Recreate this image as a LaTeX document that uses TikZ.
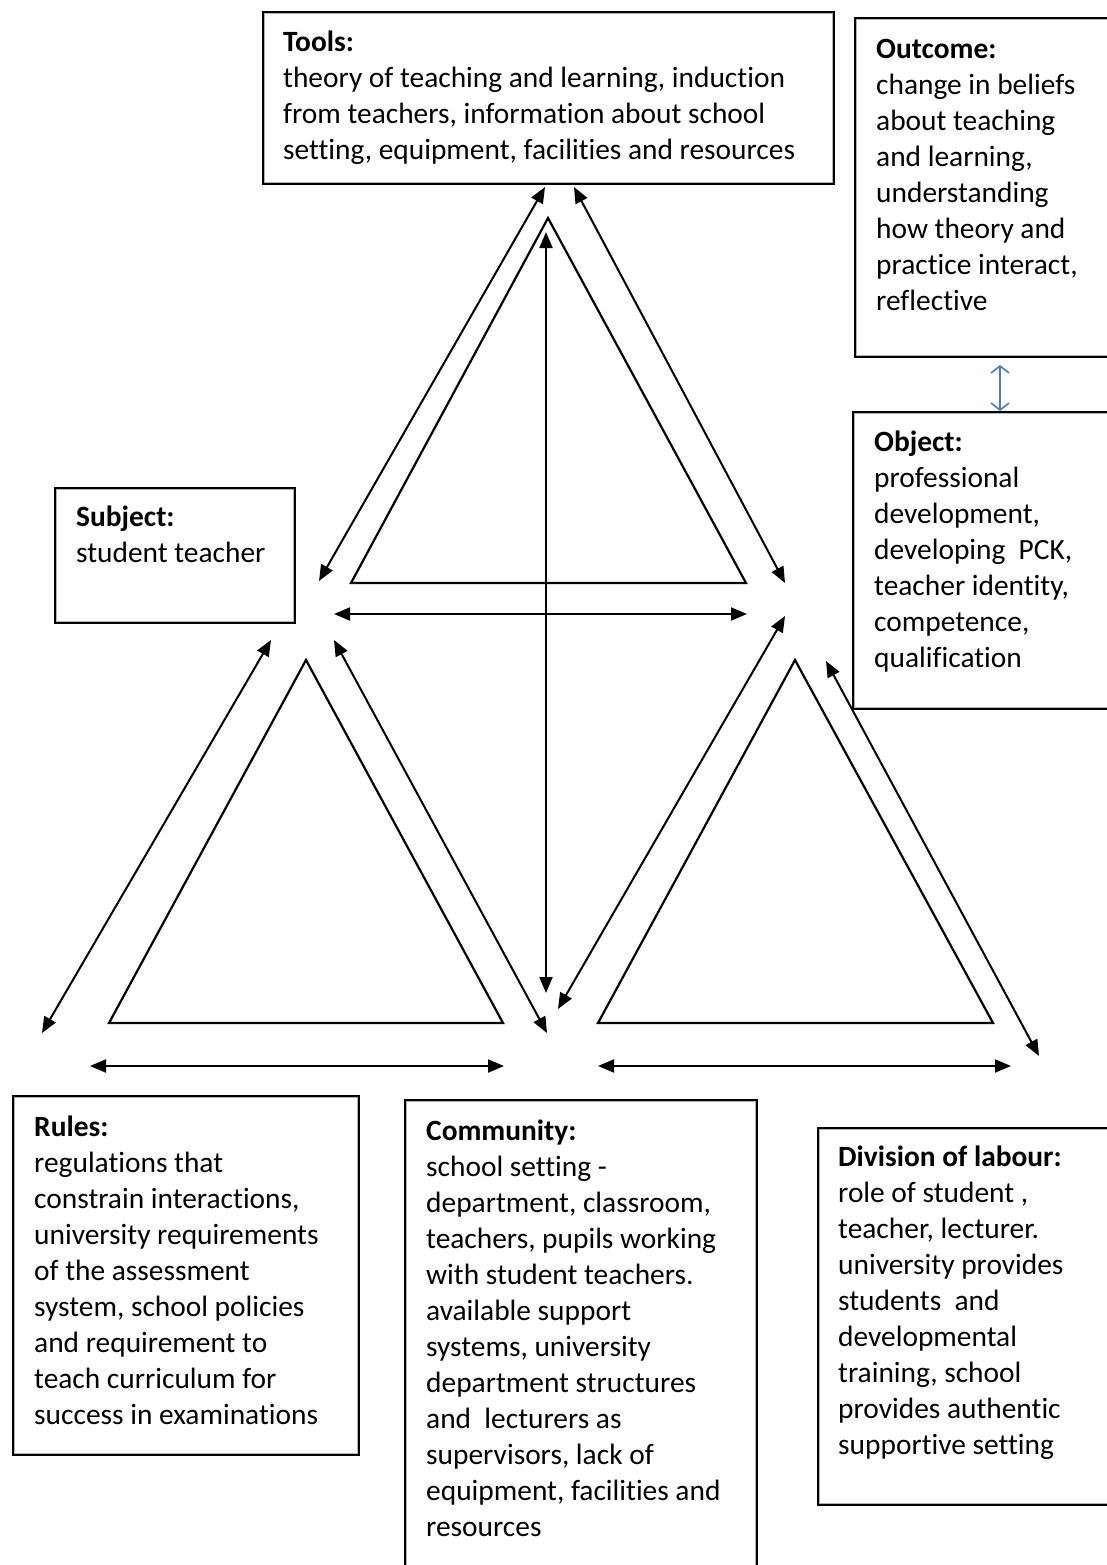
\documentclass[tikz,border=0pt]{standalone}
\usepackage{fontspec}
\setmainfont[RawFeature=-liga]{Carlito}
\usetikzlibrary{arrows.meta}
\definecolor{linkblue}{RGB}{74,126,187}
\newcommand\hd[1]{\rule{0pt}{23pt}\textbf{#1}}
\tikzset{
  box/.style={draw=black, line width=1.8pt, fill=none, inner sep=0pt, anchor=north west},
  txt/.style={align=left, inner sep=0pt, anchor=north west,
    font=\fontsize{29.4}{36}\selectfont},
  tri/.style={draw=black, line width=2.2pt, line join=miter},
  link/.style={line width=2pt, {Triangle[length=16pt,width=13pt]}-{Triangle[length=16pt,width=13pt]}},
  outlink/.style={draw=linkblue, line width=1.6pt, {Straight Barb[length=7pt,width=18pt]}-{Straight Barb[length=7pt,width=18pt]}}
}
\begin{document}
\begin{tikzpicture}[x=1pt,y=-1pt]
\useasboundingbox (0,0) rectangle (1106,1565);
\fill[white] (0,0) rectangle (1106,1565);

% boxes
\node[box, minimum width=571pt, minimum height=172pt] (tools) at (262,11) {};
\node[box, minimum width=261pt, minimum height=339pt] (outcome) at (854,17) {};
\node[box, minimum width=263pt, minimum height=297pt] (object) at (852,411) {};
\node[box, minimum width=240pt, minimum height=135pt] (subject) at (54,487) {};
\node[box, minimum width=346pt, minimum height=359pt] (rules) at (12,1095) {};
\node[box, minimum width=352pt, minimum height=481pt] (community) at (404,1099) {};
\node[box, minimum width=298pt, minimum height=377pt] (division) at (817,1127) {};

% grey inner frame of each box
\foreach \b in {tools,outcome,object,subject,rules,community,division}
  \draw[gray!60, line width=1.4pt] ([shift={(2.5,2.5)}]\b.north west) rectangle ([shift={(-2.5,-2.5)}]\b.south east);

% texts
\node[txt] (tools-t) at (283,28) {\hd{Tools:}\\theory of teaching and learning, induction\\from teachers, information about school\\setting, equipment, facilities and resources};
\node[txt] (outcome-t) at (876,35) {\hd{Outcome:}\\change in beliefs\\about teaching\\and learning,\\understanding\\how theory and\\practice interact,\\reflective};
\node[txt] (object-t) at (874,428) {\hd{Object:}\\professional\\development,\\developing\ \ PCK,\\teacher identity,\\competence,\\qualification};
\node[txt] (subject-t) at (76,503) {\hd{Subject:}\\student teacher};
\node[txt] (rules-t) at (34,1113) {\hd{Rules:}\\regulations that\\constrain interactions,\\university requirements\\of the assessment\\system, school policies\\and requirement to\\teach curriculum for\\success in examinations};
\node[txt] (community-t) at (426,1117) {\hd{Community:}\\school setting -\\department, classroom,\\teachers, pupils working\\with student teachers.\\available support\\systems, university\\department structures\\and\ \ lecturers as\\supervisors, lack of\\equipment, facilities and\\resources};
\node[txt] (division-t) at (838,1143) {\hd{Division of labour:}\\role of student ,\\teacher, lecturer.\\university provides\\students\ \ and\\developmental\\training, school\\provides authentic\\supportive setting};

% triangles
\draw[tri] (548,218) -- (351,583) -- (746,583) -- cycle;
\draw[tri] (306,660) -- (109,1023) -- (503,1023) -- cycle;
\draw[tri] (795,660) -- (598,1023) -- (993,1023) -- cycle;

% connector end points
\coordinate (a1s) at (319,581);  \coordinate (a1e) at (545,187);
\coordinate (a2s) at (574,187);  \coordinate (a2e) at (785,583);
\coordinate (a3s) at (546,232);  \coordinate (a3e) at (546,993);
\coordinate (a4s) at (334,614);  \coordinate (a4e) at (747,614);
\coordinate (a5s) at (42,1033);  \coordinate (a5e) at (271,640);
\coordinate (a6s) at (334,640);  \coordinate (a6e) at (547,1033);
\coordinate (a7s) at (785,616);  \coordinate (a7e) at (558,1009);
\coordinate (a8s) at (826,661);  \coordinate (a8e) at (1039,1056);
\coordinate (a9s) at (90,1066);  \coordinate (a9e) at (504,1066);
\coordinate (a10s) at (598,1066); \coordinate (a10e) at (1011,1066);
\coordinate (o1) at (1000,365);  \coordinate (o2) at (1000,411);

% two-way links
\foreach \i in {1,...,10}
  \draw[link] (a\i s) -- (a\i e);
\draw[outlink] (o1) -- (o2);
\end{tikzpicture}
\end{document}
